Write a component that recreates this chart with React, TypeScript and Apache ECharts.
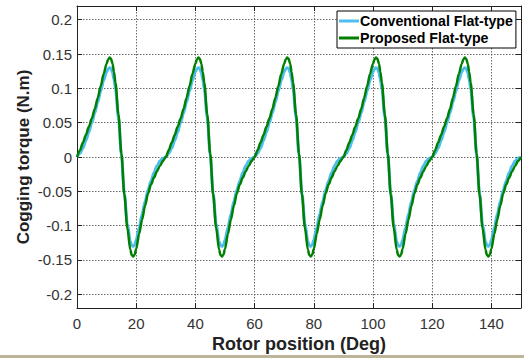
import React, { useEffect, useRef } from "react";
import * as echarts from "echarts";

// One 30-degree period of cogging torque (offsets in degrees within a period)
const periodDeg = 30;
const periods = 5;
const periodOffsets = [
  0, 1, 2, 3, 4, 5, 6, 7, 8, 9, 10, 10.5, 11, 11.5, 12, 12.5, 13, 14, 15, 16,
  17, 18, 18.5, 19, 19.5, 20, 21, 22, 23, 24, 25, 26, 27, 28, 29,
];
const conventionalPeriod = [
  0, 0.005, 0.013, 0.024, 0.036, 0.05, 0.064, 0.08, 0.096, 0.112, 0.124,
  0.128, 0.13, 0.129, 0.123, 0.113, 0.099, 0.058, 0.003, -0.053, -0.097,
  -0.123, -0.129, -0.13, -0.128, -0.121, -0.103, -0.083, -0.065, -0.048,
  -0.035, -0.023, -0.013, -0.006, -0.002,
];
const proposedPeriod = [
  0, 0.01, 0.021, 0.032, 0.044, 0.056, 0.07, 0.086, 0.103, 0.121, 0.136,
  0.142, 0.145, 0.143, 0.136, 0.124, 0.108, 0.062, 0.005, -0.055, -0.103,
  -0.135, -0.143, -0.145, -0.142, -0.134, -0.112, -0.091, -0.071, -0.053,
  -0.04, -0.03, -0.021, -0.013, -0.006,
];
const yTicks = [-0.2, -0.15, -0.1, -0.05, 0, 0.05, 0.1, 0.15, 0.2];
const seriesNames = ["Conventional Flat-type", "Proposed Flat-type"];

function tile(period: number[]): number[][] {
  const out: number[][] = [];
  for (let p = 0; p < periods; p++) {
    period.forEach((v, i) => out.push([p * periodDeg + periodOffsets[i], v]));
  }
  out.push([periods * periodDeg, period[0]]);
  return out;
}

const FONT = "'Liberation Sans', Arial, sans-serif";

export default function App() {
  const ref = useRef<HTMLDivElement>(null);
  useEffect(() => {
    if (!ref.current) return;
    const chart = echarts.init(ref.current, undefined, { renderer: "svg" });
    const gridLine = { show: true, lineStyle: { color: "#444", width: 0.8, type: [1.5, 1.5] as any } };
    chart.setOption({
      animation: false,
      backgroundColor: "#fff",
      textStyle: { fontFamily: FONT },
      grid: { left: 77, right: 3, top: 6, bottom: 50, containLabel: false },
      legend: {
        orient: "vertical",
        left: 337,
        top: 11,
        backgroundColor: "#fff",
        borderColor: "#000",
        borderWidth: 1,
        padding: [3, 3, 3, 2],
        itemGap: 3,
        itemWidth: 20,
        itemHeight: 3,
        icon: "rect",
        textStyle: { fontFamily: FONT, fontWeight: "bold", fontSize: 14.2, color: "#000", padding: [0, 0, 0, -4] },
        data: seriesNames,
      },
      xAxis: [
        {
          type: "value",
          min: 0,
          max: 150,
          interval: 20,
          name: "Rotor position (Deg)",
          nameLocation: "middle",
          nameGap: 27,
          nameMoveOverlap: false,
          nameTextStyle: { fontFamily: FONT, fontWeight: "bold", fontSize: 18, color: "#222" },
          axisLine: { show: true, onZero: false, lineStyle: { color: "#222", width: 1 } },
          axisTick: { show: true, inside: true, length: 5, lineStyle: { color: "#222" } },
          axisLabel: { fontFamily: FONT, fontSize: 15, color: "#333", margin: 8, showMaxLabel: false },
          splitLine: gridLine,
        },
        {
          type: "value",
          position: "top",
          min: 0,
          max: 150,
          interval: 20,
          axisLine: { show: true, onZero: false, lineStyle: { color: "#222", width: 1 } },
          axisTick: { show: true, inside: true, length: 5, lineStyle: { color: "#222" } },
          axisLabel: { show: false },
          splitLine: { show: false },
        },
      ],
      yAxis: [
        {
          type: "value",
          min: -0.22,
          max: 0.22,
          name: "Cogging torque (N.m)",
          nameLocation: "middle",
          nameGap: 45,
          nameMoveOverlap: false,
          nameTextStyle: { fontFamily: FONT, fontWeight: "bold", fontSize: 17, color: "#222" },
          axisLine: { show: true, onZero: false, lineStyle: { color: "#222", width: 1 } },
          axisTick: { show: true, inside: true, length: 5, customValues: yTicks, lineStyle: { color: "#222" } },
          axisLabel: { fontFamily: FONT, fontSize: 15, color: "#333", margin: 5, customValues: yTicks },
          splitLine: gridLine,
        },
        {
          type: "value",
          position: "right",
          min: -0.22,
          max: 0.22,
          axisLine: { show: true, onZero: false, lineStyle: { color: "#222", width: 1 } },
          axisTick: { show: true, inside: true, length: 5, customValues: yTicks, lineStyle: { color: "#222" } },
          axisLabel: { show: false, customValues: yTicks },
          splitLine: { show: false },
        },
      ],
      series: [
        {
          name: seriesNames[0],
          type: "line",
          data: tile(conventionalPeriod),
          symbol: "none",
          smooth: 0.3,
          smoothMonotone: "x",
          lineStyle: { color: "#4DBEEE", width: 3 },
          itemStyle: { color: "#4DBEEE" },
          z: 2,
        },
        {
          name: seriesNames[1],
          type: "line",
          data: tile(proposedPeriod),
          symbol: "none",
          smooth: 0.3,
          smoothMonotone: "x",
          lineStyle: { color: "#007F00", width: 2.5 },
          itemStyle: { color: "#007F00" },
          z: 3,
        },
      ],
      graphic: [
        {
          type: "rect",
          left: 0,
          top: 355,
          shape: { width: 524, height: 3 },
          style: { fill: "#BDB598" },
          silent: true,
        },
      ],
    });
    return () => chart.dispose();
  }, []);
  return (
    <div
      ref={ref}
      style={{ position: "fixed", left: 0, top: 0, width: 524, height: 358 }}
    />
  );
}
